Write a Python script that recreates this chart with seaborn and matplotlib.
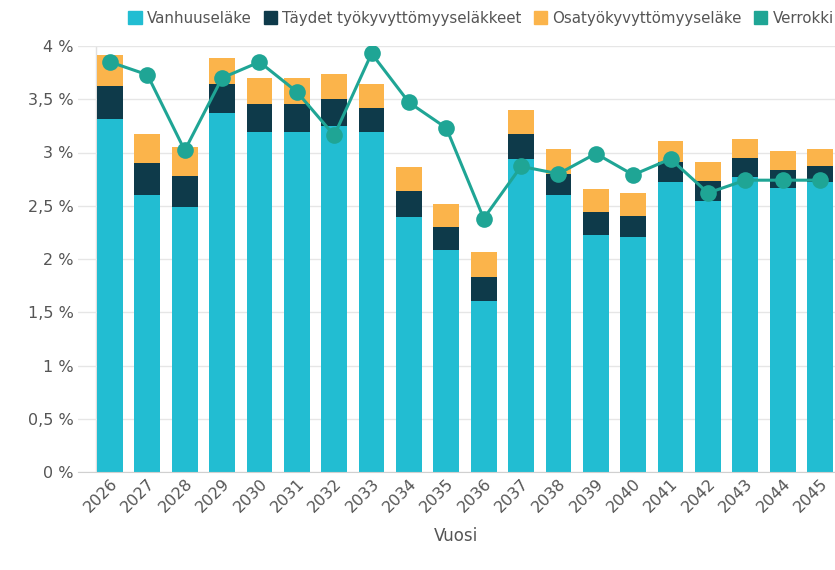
import matplotlib
matplotlib.use("Agg")
from matplotlib import pyplot as plt
from matplotlib.patches import Patch
from matplotlib.ticker import FuncFormatter
import numpy as np
import pandas as pd
import seaborn as sns

years = [str(y) for y in range(2026, 2046)]
vanhuus = [3.31, 2.60, 2.49, 3.37, 3.19, 3.19, 3.25, 3.19, 2.39, 2.08,
           1.61, 2.94, 2.60, 2.23, 2.21, 2.72, 2.54, 2.77, 2.67, 2.72]
taydet = [0.31, 0.30, 0.29, 0.27, 0.27, 0.27, 0.25, 0.23, 0.25, 0.22,
          0.22, 0.23, 0.20, 0.21, 0.19, 0.19, 0.19, 0.18, 0.17, 0.15]
osa = [0.30, 0.27, 0.27, 0.25, 0.24, 0.24, 0.24, 0.22, 0.22, 0.22,
       0.24, 0.23, 0.23, 0.22, 0.22, 0.20, 0.18, 0.18, 0.17, 0.16]
verrokki = [3.85, 3.73, 3.02, 3.70, 3.85, 3.57, 3.16, 3.93, 3.47, 3.23,
            2.38, 2.87, 2.80, 2.99, 2.79, 2.94, 2.62, 2.74, 2.74, 2.74]

c_vanhuus = "#22bdd2"
c_taydet = "#0e3a4a"
c_osa = "#fbb44b"
c_verrokki = "#1fa595"

df = pd.DataFrame({"Vuosi": years, "vanhuus": vanhuus, "taydet": taydet, "osa": osa})
df["mid"] = df["vanhuus"] + df["taydet"]
df["top"] = df["mid"] + df["osa"]

sns.set_style("white")
plt.rcParams["font.family"] = ["DejaVu Sans"]

fig = plt.figure(figsize=(8.35, 5.7), dpi=100)
ax = fig.add_axes([78 / 835, 98 / 570, 1 - 78 / 835, 426 / 570])

# stacked bars drawn as overlaid cumulative totals
for col, c in [("top", c_osa), ("mid", c_taydet), ("vanhuus", c_vanhuus)]:
    sns.barplot(data=df, x="Vuosi", y=col, color=c, width=0.69, saturation=1,
                linewidth=0, ax=ax)

sns.lineplot(x=np.arange(len(years)), y=verrokki, color=c_verrokki, linewidth=2.2,
             marker="o", markersize=12, markeredgewidth=0, ax=ax, zorder=5)

ax.set_ylim(0, 4)
ax.set_xlim(-0.856, len(years) - 0.6)
ax.set_yticks(np.arange(0, 4.01, 0.5))
ax.yaxis.set_major_formatter(FuncFormatter(lambda v, p: ("%g %%" % v).replace(".", ",")))
ax.grid(axis="y", color="#e6e6e6", linewidth=1)
ax.set_axisbelow(True)
for s in ["top", "right", "left"]:
    ax.spines[s].set_visible(False)
ax.spines["bottom"].set_color("#d0d0d0")
ax.axvline(-0.375, color="#e0e0e0", linewidth=1, zorder=0)

ax.tick_params(axis="both", length=0, labelsize=11.5, colors="#555555", pad=3)
plt.setp(ax.get_xticklabels(), rotation=45, ha="right", rotation_mode="anchor")
ax.set_xlabel("Vuosi", fontsize=12, color="#555555", labelpad=8)
ax.set_ylabel("")

handles = [Patch(color=c_vanhuus), Patch(color=c_taydet), Patch(color=c_osa), Patch(color=c_verrokki)]
labels = ["Vanhuuseläke", "Täydet työkyvyttömyyseläkkeet", "Osatyökyvyttömyyseläke", "Verrokki"]
leg = fig.legend(handles, labels, loc="upper center", bbox_to_anchor=(0.576, 1.005), ncol=4,
                 frameon=False, fontsize=10.8, handlelength=0.9, handleheight=0.9,
                 handletextpad=0.35, columnspacing=0.8)
for t in leg.get_texts():
    t.set_color("#555555")

fig.savefig("out.png", dpi=100)
